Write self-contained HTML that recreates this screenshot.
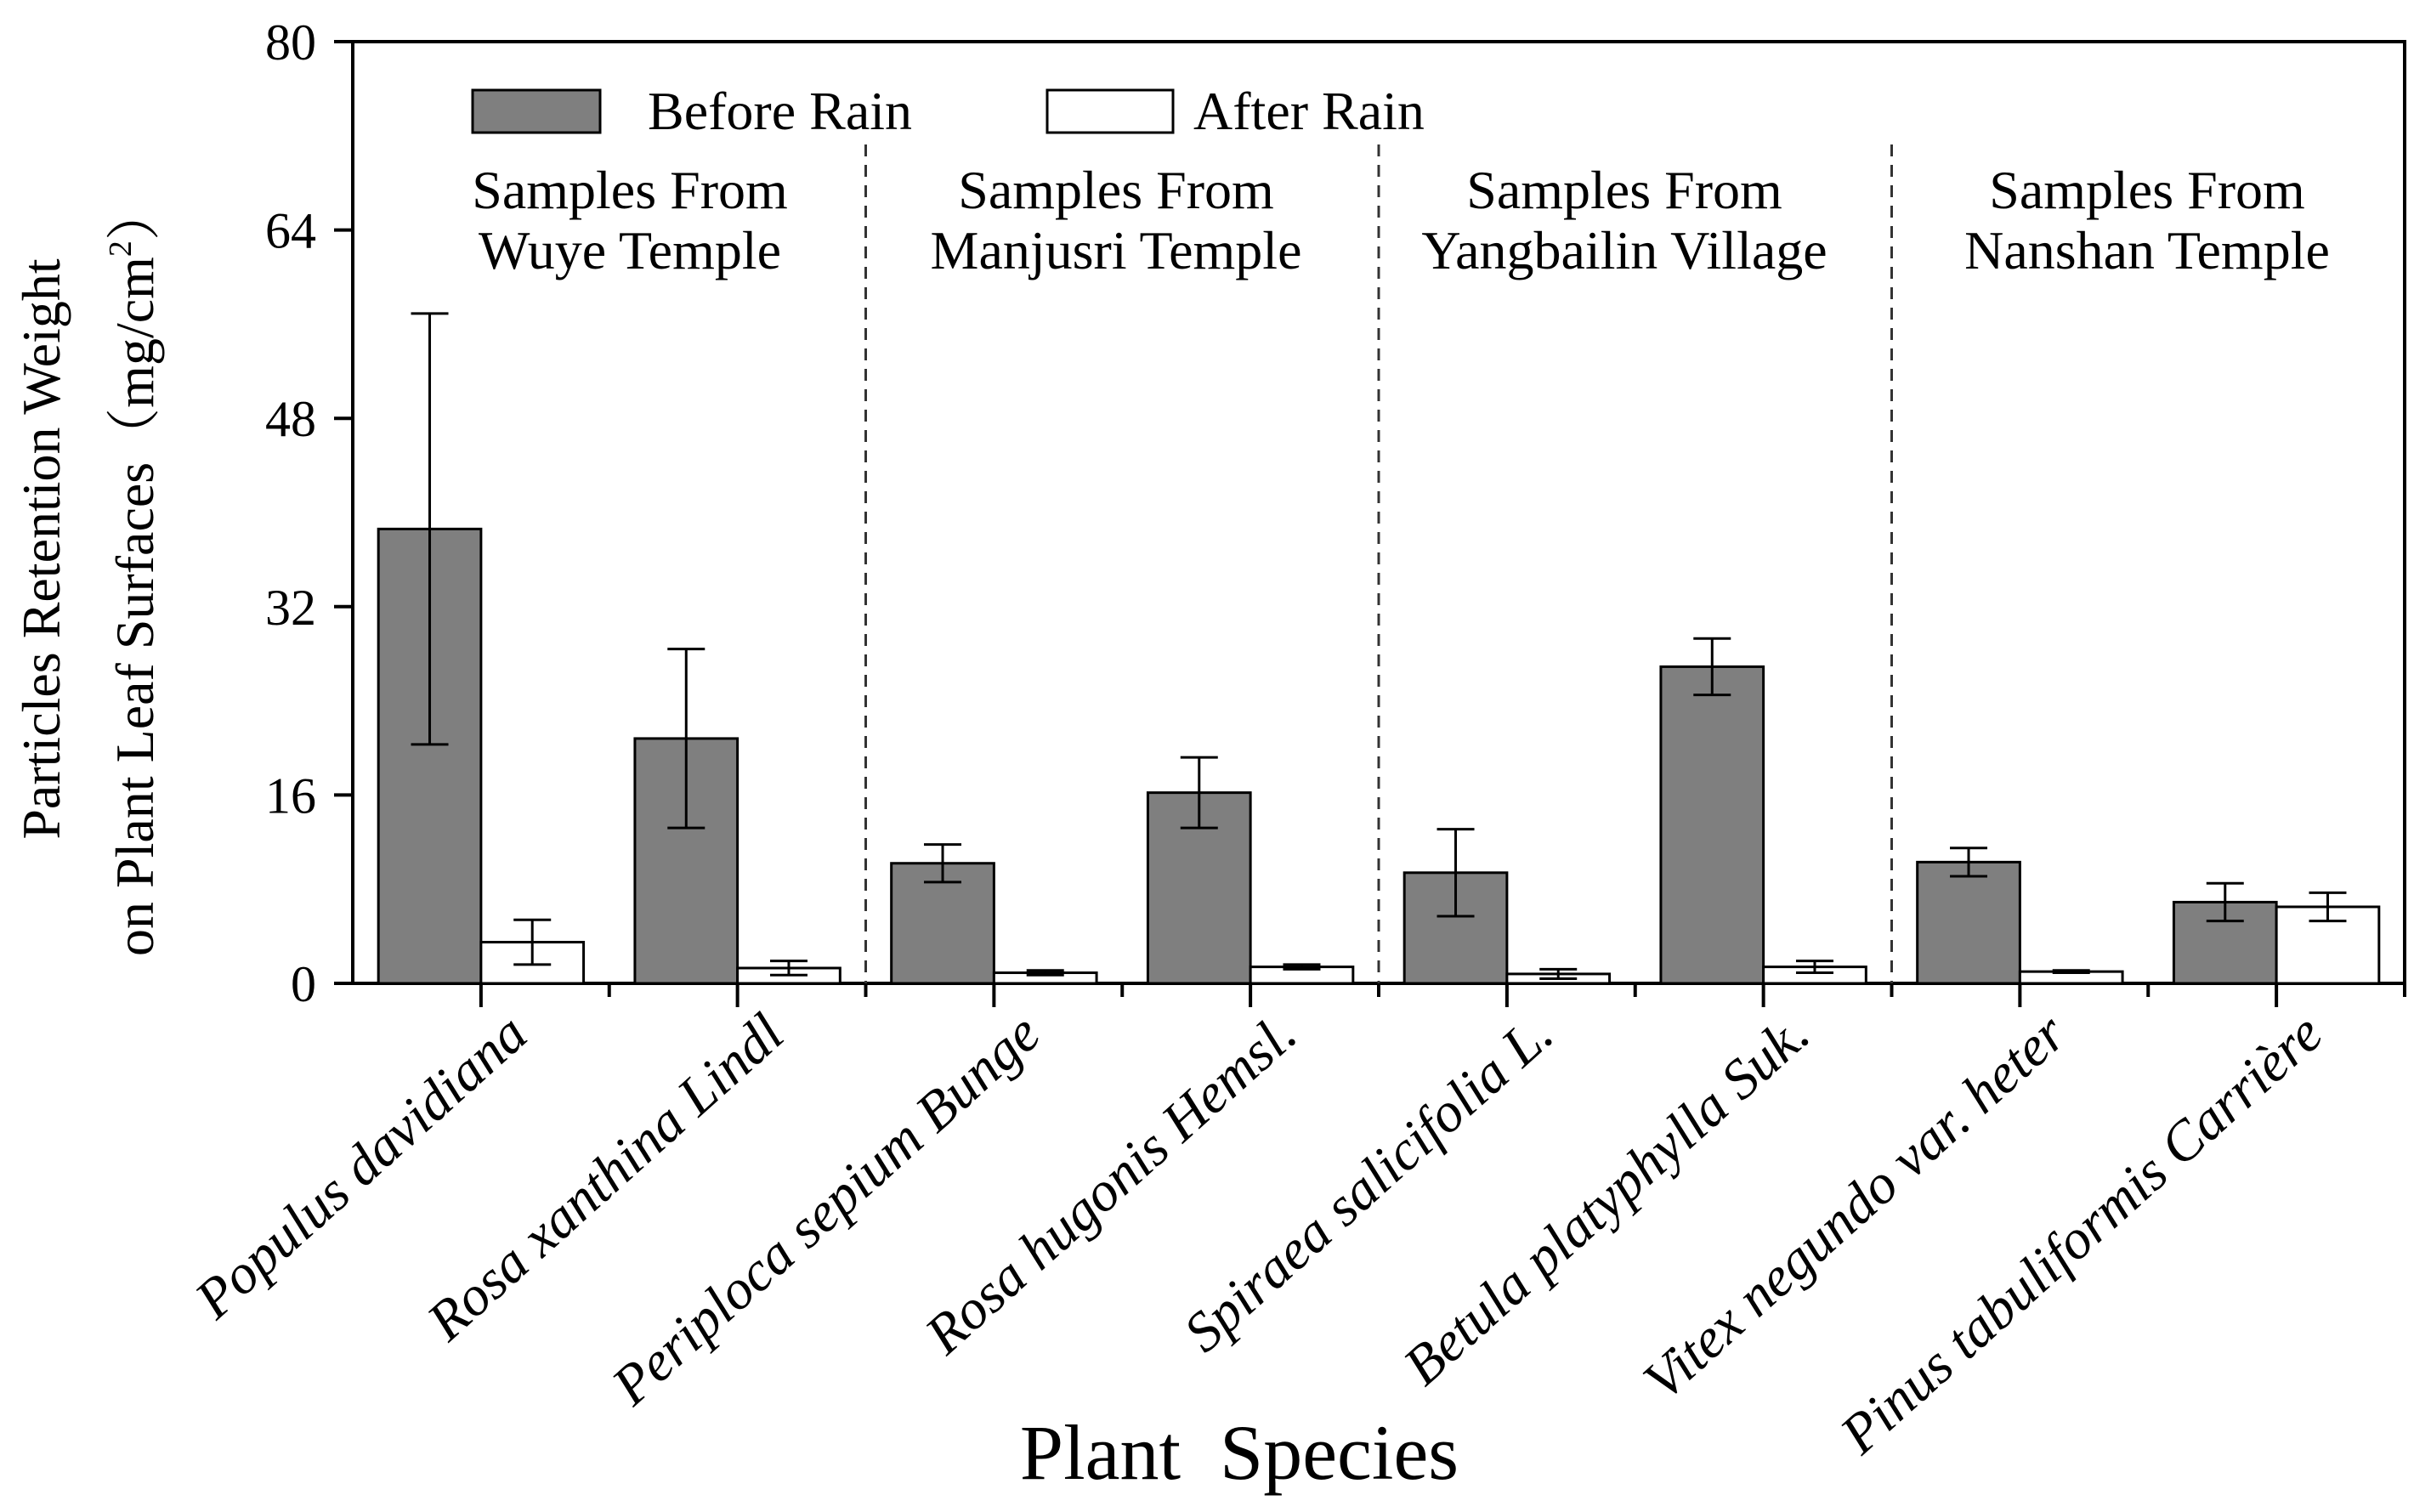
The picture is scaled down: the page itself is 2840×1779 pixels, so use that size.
<!DOCTYPE html>
<html><head><meta charset="utf-8"><style>
html,body{margin:0;padding:0;background:#fff;}
svg{display:block;}
text{font-family:"Liberation Serif",serif;fill:#000;}
</style></head><body>
<svg id="chart" width="2840" height="1779" viewBox="0 0 2840 1779" xmlns="http://www.w3.org/2000/svg">
<g id="plot"></g>
</svg>
<script>
const categories = ["Populus davidiana","Rosa xanthina Lindl","Periploca sepium Bunge","Rosa hugonis Hemsl.","Spiraea salicifolia L.","Betula platyphylla Suk.","Vitex negundo var. heter","Pinus tabuliformis Carrière"];
const beforeValues = [38.6,20.8,10.2,16.2,9.4,26.9,10.3,6.9];
const beforeErrors = [18.3,7.6,1.6,3.0,3.7,2.4,1.2,1.6];
const afterValues = [3.5,1.3,0.9,1.4,0.8,1.4,1.0,6.5];
const afterErrors = [1.9,0.6,0.2,0.2,0.4,0.5,0.1,1.2];
const yTicks = [0,16,32,48,64,80];
const groupLabels = [["Samples From","Wuye Temple"],["Samples From","Manjusri Temple"],["Samples From","Yangbailin Village"],["Samples From","Nanshan Temple"]];

const NS="http://www.w3.org/2000/svg";
const svg=document.getElementById('plot');
const X0=415,X1=2829,Y0=1157,Y1=49,YMAX=80;
const slot=(X1-X0)/categories.length;
const y=v=>Y0-(v/YMAX)*(Y0-Y1);
const xc=i=>X0+slot*(i+0.5);
function mk(tag,attrs,parent){const e=document.createElementNS(NS,tag);for(const k in attrs)e.setAttribute(k,attrs[k]);(parent||svg).appendChild(e);return e;}

const frame=mk('rect',{x:X0,y:Y1,width:X1-X0,height:Y0-Y1,fill:'none',stroke:'#000','stroke-width':4});



[2,4,6].forEach(k=>{
  const l=mk('line',{x1:X0+slot*k,x2:X0+slot*k,y1:170,y2:Y0,stroke:'#333','stroke-width':3,'stroke-dasharray':'14 10'});
  
  
});

yTicks.forEach(t=>{
  const l=mk('line',{x1:X0-22,x2:X0,y1:y(t),y2:y(t),stroke:'#000','stroke-width':4});
  
  
  const tx=mk('text',{x:372,y:y(t)+21,'text-anchor':'end','font-size':60});
  tx.textContent=t;
  
  
});

const bw=slot*0.4;
categories.forEach((c,i)=>{
  const t1=mk('line',{x1:xc(i),x2:xc(i),y1:Y0,y2:Y0+28,stroke:'#000','stroke-width':4});
  
  
  const t2=mk('line',{x1:X0+slot*(i+1),x2:X0+slot*(i+1),y1:Y0,y2:Y0+16,stroke:'#000','stroke-width':4});
  
  
  const b=mk('rect',{x:xc(i)-bw,y:y(beforeValues[i]),width:bw,height:Y0-y(beforeValues[i]),fill:'#7f7f7f',stroke:'#000','stroke-width':3});
  
  
  const a=mk('rect',{x:xc(i),y:y(afterValues[i]),width:bw,height:Y0-y(afterValues[i]),fill:'#fff',stroke:'#000','stroke-width':3});
  
  
  [[xc(i)-bw/2,beforeValues[i],beforeErrors[i]],[xc(i)+bw/2,afterValues[i],afterErrors[i]]].forEach(([cx,v,e])=>{
    const g=mk('g',{stroke:'#000','stroke-width':3});
    
    
    mk('line',{x1:cx,x2:cx,y1:y(v+e),y2:y(v-e)},g);
    mk('line',{x1:cx-22,x2:cx+22,y1:y(v+e),y2:y(v+e)},g);
    mk('line',{x1:cx-22,x2:cx+22,y1:y(v-e),y2:y(v-e)},g);
  });
  const lx=xc(i)+58, ly=1222;
  const tx=mk('text',{x:lx,y:ly,'text-anchor':'end','font-size':66,'font-style':'italic',transform:`rotate(-42 ${lx} ${ly})`});
  tx.textContent=c;
  
  
});

const groupCenters=[741,1313,1911,2526];
groupLabels.forEach((g,k)=>{
  g.forEach((s,j)=>{
    const t=mk('text',{x:groupCenters[k],y:245+j*71,'text-anchor':'middle','font-size':64});
    t.textContent=s;
    
    
  });
});

const lb=mk('rect',{x:556,y:106,width:150,height:50,fill:'#7f7f7f',stroke:'#000','stroke-width':3});


const lbt=mk('text',{x:762,y:152,'font-size':64});lbt.textContent='Before Rain';


const la=mk('rect',{x:1232,y:106,width:148,height:50,fill:'#fff',stroke:'#000','stroke-width':3});


const lat=mk('text',{x:1404,y:152,'font-size':64});lat.textContent='After Rain';



const yt1=mk('text',{x:0,y:0,'text-anchor':'middle','font-size':64,transform:'translate(70,646) rotate(-90)'});
yt1.textContent='Particles Retention Weight';


const yt2=mk('text',{x:0,y:0,'text-anchor':'middle','font-size':64,transform:'translate(180,672) rotate(-90)'});
yt2.innerHTML='on Plant Leaf Surfaces\uFF08mg/cm<tspan dy="-26" font-size="38">2</tspan><tspan dy="26">\uFF09</tspan>';
yt2.style.fontFamily='"Liberation Serif","Noto Serif CJK SC",serif';


const xt=mk('text',{x:1458,y:1740,'text-anchor':'middle','font-size':92});
xt.textContent='Plant  Species';
xt.style.whiteSpace='pre';


</script>
</body></html>
